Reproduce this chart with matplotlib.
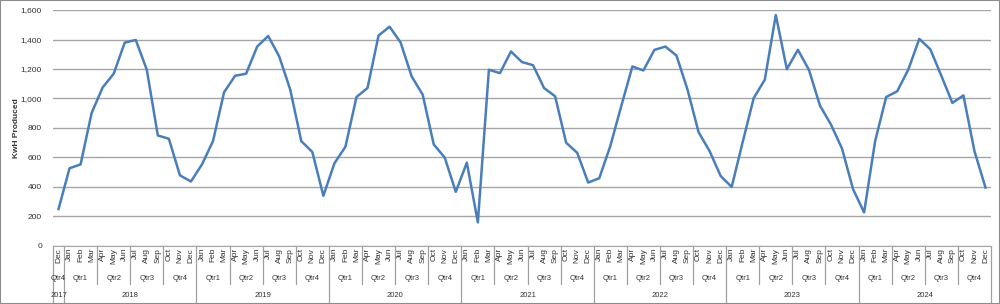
import numpy as np
import matplotlib.pyplot as plt
from matplotlib.patches import Rectangle

plt.rcParams['font.family'] = ['Liberation Sans', 'DejaVu Sans']

# monthly production, Dec 2017 .. Dec 2024
month_names = ['Jan', 'Feb', 'Mar', 'Apr', 'May', 'Jun',
               'Jul', 'Aug', 'Sep', 'Oct', 'Nov', 'Dec']
years = [2017, 2018, 2019, 2020, 2021, 2022, 2023, 2024]
kwh = [250,
       527, 553, 902, 1075, 1168, 1379, 1397, 1195, 749, 727, 479, 437,   # 2018
       553, 711, 1042, 1154, 1168, 1352, 1424, 1285, 1060, 711, 637, 340,  # 2019
       560, 673, 1010, 1071, 1427, 1487, 1380, 1150, 1026, 689, 599, 367,  # 2020
       565, 160, 1195, 1172, 1319, 1247, 1226, 1071, 1015, 700, 632, 430,  # 2021
       459, 677, 950, 1217, 1190, 1330, 1352, 1291, 1060, 772, 643, 475,   # 2022
       400, 705, 1003, 1127, 1566, 1199, 1330, 1195, 952, 823, 660, 385,   # 2023
       227, 711, 1010, 1049, 1195, 1404, 1334, 1154, 970, 1021, 643, 396]  # 2024

# category labels for each point
labels_month = ['Dec'] + month_names * 7
labels_year = [2017] + [y for y in years[1:] for _ in range(12)]
month_idx = [11] + list(range(12)) * 7

fig = plt.figure(figsize=(10, 3.04), dpi=100)
fig.patches.append(Rectangle((0, 0), 1, 1, transform=fig.transFigure,
                             fill=False, edgecolor='#8c8c8c', linewidth=1.5))
ax = fig.add_axes([0.053, 0.191, 0.938, 0.776])

x = np.arange(len(kwh))
ax.plot(x, kwh, color='#4a7ebb', linewidth=1.8, zorder=3)

ax.set_xlim(-0.5, len(kwh) - 0.5)
ax.set_ylim(0, 1600)
ax.set_yticks(range(0, 1601, 200))
ax.set_yticklabels([f'{v:,}' for v in range(0, 1601, 200)])
ax.tick_params(axis='y', length=0, pad=8, labelsize=6, labelcolor='#333333')
ax.set_xticks([])
ax.grid(axis='y', color='#a6a6a6', linewidth=1.0)
ax.set_axisbelow(True)
for s in ['top', 'right', 'left']:
    ax.spines[s].set_visible(False)
ax.spines['bottom'].set_color('#a6a6a6')
ax.set_ylabel('KwH Produced', fontsize=6, fontweight='bold', labelpad=0.5,
              color='#333333')

# multi-level category axis
tr = ax.get_xaxis_transform()
line_kw = dict(color='#a0a0a0', linewidth=0.9, transform=tr, clip_on=False)
for i in x:
    ax.text(i, -0.008, labels_month[i], rotation=90, ha='center', va='top',
            fontsize=6, color='#333333', transform=tr)

# separators at quarter and year boundaries
ax.plot([-0.5, -0.5], [0, -0.25], **line_kw)
ax.plot([len(kwh) - 0.5] * 2, [0, -0.25], **line_kw)
for i in x[1:]:
    if month_idx[i] == 0:
        ax.plot([i - 0.5, i - 0.5], [0, -0.25], **line_kw)
    elif month_idx[i] % 3 == 0:
        ax.plot([i - 0.5, i - 0.5], [0, -0.16], **line_kw)

# quarter labels
start = 0
for i in range(1, len(kwh) + 1):
    if i == len(kwh) or month_idx[i] % 3 == 0:
        q = month_idx[start] // 3 + 1
        ax.text((start + i - 1) / 2, -0.136, f'Qtr{q}', ha='center', va='center',
                fontsize=5.5, color='#333333', transform=tr)
        start = i

# year labels
for yr in years:
    idx = [i for i in x if labels_year[i] == yr]
    ax.text((idx[0] + idx[-1]) / 2, -0.208, str(yr), ha='center', va='center',
            fontsize=5.5, color='#333333', transform=tr)

plt.savefig('out.png', dpi=100)
